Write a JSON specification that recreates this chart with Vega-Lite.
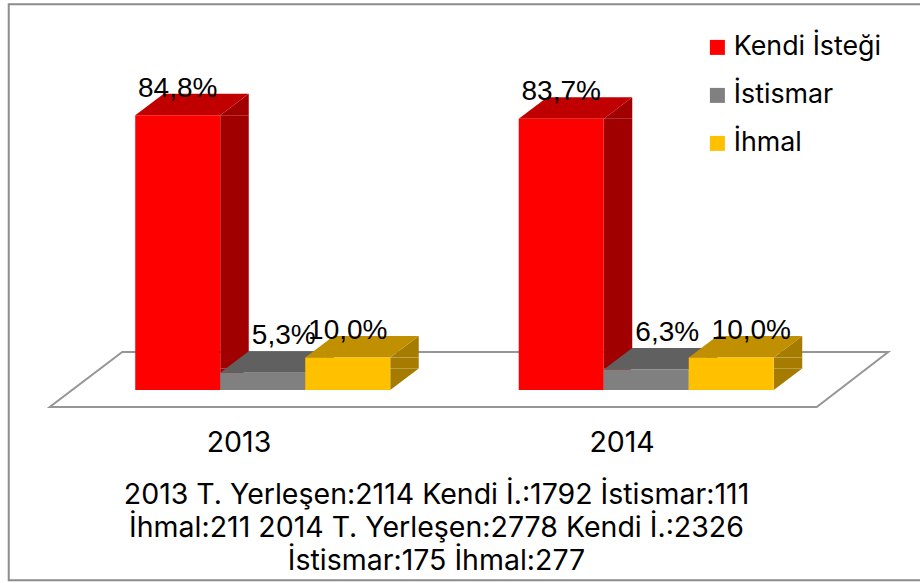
{
"$schema":"https://vega.github.io/schema/vega-lite/v6.json",
"width":909,"height":576,
"padding":{"left":10,"top":4,"right":1,"bottom":3},
"autosize":"none",
"background":"white",
"config":{"view":{"stroke":null},"font":"Inter"},
"datasets":{"bars":[
{"year":"2013","series":"Kendi İsteği","value":84.8,"label":"84,8%"},
{"year":"2013","series":"İstismar","value":5.3,"label":"5,3%"},
{"year":"2013","series":"İhmal","value":10.0,"label":"10,0%"},
{"year":"2014","series":"Kendi İsteği","value":83.7,"label":"83,7%"},
{"year":"2014","series":"İstismar","value":6.3,"label":"6,3%"},
{"year":"2014","series":"İhmal","value":10.0,"label":"10,0%"}
],"floor":[{"year":"2013","value":0}]},
"data":{"name":"bars"},
"encoding":{
"x":{"field":"year","type":"nominal","scale":{"domain":["2013","2014"],"range":[61,828],"paddingInner":0.335,"paddingOuter":0.1675}},
"y":{"field":"value","type":"quantitative","scale":{"domain":[0,100],"range":[386,62],"nice":false,"clamp":false},"axis":null}
},
"resolve":{"scale":{"color":"independent"}},
"layer":[
{"data":{"name":"floor"},
 "mark":{"type":"point","filled":false,"stroke":"#8c8c8c","strokeWidth":2,"size":4,"opacity":1,
 "shape":"M800,-385.7 L-126.5,-385.7 L-126.5,190.3 L800,190.3"},
 "encoding":{"x":{"field":"year","type":"nominal","bandPosition":0}}},
{"data":{"name":"floor"},
 "mark":{"type":"point","filled":false,"stroke":"#969696","strokeWidth":2,"size":4,"opacity":1,
 "shape":"M-85.5,17 L681.5,17 L753,-38 L-13,-38 Z"},
 "encoding":{"x":{"field":"year","type":"nominal","bandPosition":0}}},
{"transform":[{"filter":"datum.series==='Kendi İsteği'"}],
 "mark":{"type":"bar","width":28.5,"xOffset":-28.25,"y2Offset":-21.5,"color":"#a00000"},
 "encoding":{"y2":{"datum":0}}},
{"transform":[{"filter":"datum.series==='İhmal'"}],
 "mark":{"type":"bar","width":28.5,"xOffset":141.75,"y2Offset":-21.5,"color":"#a67c00"},
 "encoding":{"y2":{"datum":0}}},
{"mark":{"type":"point","filled":true,"size":4,"opacity":1,"strokeWidth":0,"shape":"M42.5,0 L71,-21.5 L71,0 Z"},
 "encoding":{
 "xOffset":{"field":"series","type":"nominal","sort":["Kendi İsteği","İstismar","İhmal"],"scale":{"domain":["Kendi İsteği","İstismar","İhmal"],"paddingInner":0,"paddingOuter":0}},
 "color":{"field":"series","type":"nominal","legend":null,"scale":{"domain":["Kendi İsteği","İstismar","İhmal"],"range":["#a00000","#4d4d4d","#a67c00"]}}}},
{"mark":{"type":"point","filled":true,"size":4,"opacity":1,"strokeWidth":0,"shape":"M42.5,-21.5 L71,-21.5 L42.5,0 Z"},
 "encoding":{"y":{"datum":0},
 "xOffset":{"field":"series","type":"nominal","sort":["Kendi İsteği","İstismar","İhmal"],"scale":{"domain":["Kendi İsteği","İstismar","İhmal"],"paddingInner":0,"paddingOuter":0}},
 "color":{"field":"series","type":"nominal","legend":null,"scale":{"domain":["Kendi İsteği","İstismar","İhmal"],"range":["#a00000","#4d4d4d","#a67c00"]}}}},
{"mark":{"type":"point","filled":true,"size":4,"opacity":1,"strokeWidth":0,"shape":"M-42.5,0 L42.5,0 L71,-21.5 L-14,-21.5 Z"},
 "encoding":{
 "xOffset":{"field":"series","type":"nominal","sort":["Kendi İsteği","İstismar","İhmal"],"scale":{"domain":["Kendi İsteği","İstismar","İhmal"],"paddingInner":0,"paddingOuter":0}},
 "color":{"field":"series","type":"nominal","legend":null,"scale":{"domain":["Kendi İsteği","İstismar","İhmal"],"range":["#c00000","#606060","#c09000"]}}}},
{"mark":{"type":"bar"},
 "encoding":{
 "x":{"field":"year","type":"nominal","axis":{"orient":"bottom","offset":-190,"domain":false,"ticks":false,"labelAngle":0,"labelFontSize":28.5,"labelFont":"Inter","labelColor":"#000","labelOffset":8.5,"labelPadding":52,
   "title":["2013 T. Yerleşen:2114 Kendi İ.:1792 İstismar:111","İhmal:211 2014 T. Yerleşen:2778 Kendi İ.:2326","İstismar:175 İhmal:277"],
   "titleFontSize":28.5,"titleFontWeight":"normal","titleFont":"Inter","titleColor":"#000","titleLineHeight":33,"titleBaseline":"alphabetic","titleX":426,"titleY":113,"titleAlign":"center","grid":false}},
 "xOffset":{"field":"series","type":"nominal","sort":["Kendi İsteği","İstismar","İhmal"],"scale":{"domain":["Kendi İsteği","İstismar","İhmal"],"paddingInner":0,"paddingOuter":0}},
 "y2":{"datum":0},
 "color":{"field":"series","type":"nominal","scale":{"domain":["Kendi İsteği","İstismar","İhmal"],"range":["#ff0000","#808080","#ffc000"]},
 "legend":{"orient":"none","legendX":694,"legendY":30,"title":null,"symbolType":"square","symbolSize":225,"symbolStrokeWidth":0,"labelFontSize":26.8,"labelFont":"Inter","labelColor":"#000","rowPadding":20,"labelOffset":3,"symbolOpacity":1}}}},
{"transform":[{"filter":"datum.series==='Kendi İsteği' || (datum.series==='İhmal' && datum.year==='2013')"}],
 "mark":{"type":"text","font":"Liberation Sans","fontSize":28,"color":"#000","baseline":"alphabetic","dy":-18.5},
 "encoding":{"text":{"field":"label"},
 "xOffset":{"field":"series","type":"nominal","sort":["Kendi İsteği","İstismar","İhmal"],"scale":{"domain":["Kendi İsteği","İstismar","İhmal"],"paddingInner":0,"paddingOuter":0}}}},
{"transform":[{"filter":"datum.series==='İstismar'"}],
 "mark":{"type":"text","font":"Liberation Sans","fontSize":28,"color":"#000","baseline":"alphabetic","dy":-28.5,"dx":21},
 "encoding":{"text":{"field":"label"},
 "xOffset":{"field":"series","type":"nominal","sort":["Kendi İsteği","İstismar","İhmal"],"scale":{"domain":["Kendi İsteği","İstismar","İhmal"],"paddingInner":0,"paddingOuter":0}}}},
{"transform":[{"filter":"datum.series==='İhmal' && datum.year==='2014'"}],
 "mark":{"type":"text","font":"Liberation Sans","fontSize":28,"color":"#000","baseline":"alphabetic","dy":-18.5,"dx":20},
 "encoding":{"text":{"field":"label"},
 "xOffset":{"field":"series","type":"nominal","sort":["Kendi İsteği","İstismar","İhmal"],"scale":{"domain":["Kendi İsteği","İstismar","İhmal"],"paddingInner":0,"paddingOuter":0}}}}
]
}
